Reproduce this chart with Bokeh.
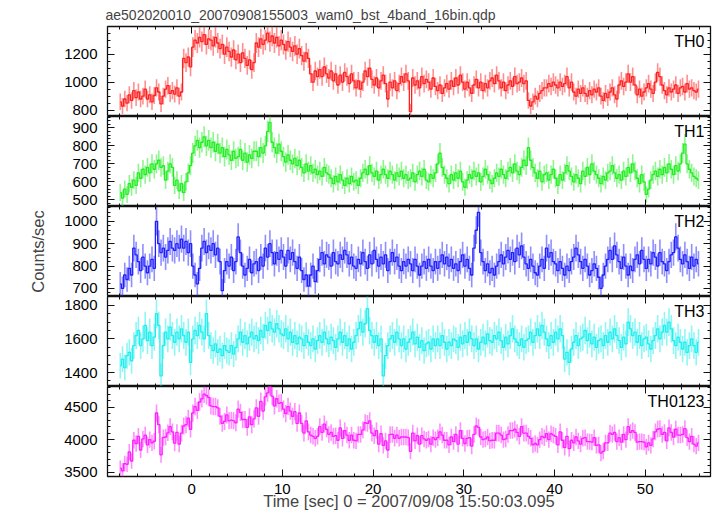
import numpy as np
from bokeh.plotting import figure
from bokeh.layouts import column
from bokeh.models import LinearAxis, FixedTicker, Range1d, Label
from bokeh.embed import file_html
from bokeh.resources import INLINE

TITLE = "ae502020010_20070908155003_wam0_bst_4band_16bin.qdp"
XLABEL = "Time [sec] 0 = 2007/09/08 15:50:03.095"
YLABEL = "Counts/sec"

# time bins: 0.25 s bins, first bin centre -7.875 s
T_START = -7.875
BIN = 0.25

th0 = [
    860, 830, 880, 850, 910, 870, 940, 890, 930, 880, 900, 950, 880, 910, 860, 905,
    960, 930, 845, 900, 950, 975, 920, 940, 915, 960, 900, 930, 1170, 1140, 1180, 1110,
    1250, 1300, 1280, 1320, 1290, 1340, 1270, 1310, 1300, 1260, 1320, 1280, 1240, 1270, 1200, 1250,
    1220, 1180, 1230, 1160, 1200, 1140, 1210, 1170, 1120, 1160, 1090, 1140, 1280, 1250, 1310, 1270,
    1300, 1350, 1290, 1330, 1280, 1320, 1260, 1300, 1270, 1230, 1290, 1250, 1220, 1260, 1200, 1240,
    1190, 1150, 1210, 1170, 1060, 1000, 1080, 1040, 1090, 1040, 1110, 1060, 1030, 1080, 1010, 1060,
    980, 1050, 1000, 1070, 1040, 990, 1060, 1010, 960, 1010, 950, 1000, 1080, 1040, 1100, 1020,
    980, 1030, 960, 1010, 1050, 990, 880, 1000, 960, 1010, 940, 990, 1040, 1000, 1060, 1010,
    790, 1030, 980, 1010, 960, 1040, 990, 1020, 1000, 950, 1030, 970, 940, 980, 920, 960,
    990, 950, 1010, 970, 1030, 980, 1050, 1000, 950, 1000, 960, 920, 980, 1020, 960, 1000,
    940, 990, 960, 1010, 1030, 990, 1050, 1010, 960, 1000, 940, 980, 1010, 970, 1040, 990,
    1000, 1030, 990, 1010, 870, 830, 860, 900, 880, 920, 940, 960, 960, 990, 970, 1000,
    980, 960, 1000, 970, 990, 1040, 960, 1000, 930, 900, 950, 920, 960, 920, 900, 940,
    910, 950, 930, 960, 900, 870, 920, 890, 930, 960, 910, 880, 980, 1010, 970, 1000,
    1060, 1000, 1040, 980, 910, 950, 900, 930, 960, 990, 950, 920, 1000, 1070, 1040, 980,
    940, 910, 960, 930, 950, 980, 920, 960, 970, 930, 990, 950, 960, 940, 930, 950,
]

th1 = [
    540, 510, 560, 530, 590, 570, 610, 580, 650, 620, 670, 640, 680, 650, 700, 670,
    700, 720, 680, 690, 610, 660, 700, 680, 580, 610, 550, 590, 540, 600, 650, 690,
    760, 800, 830, 790, 820, 850, 800, 830, 790, 820, 770, 810, 760, 790, 740, 780,
    750, 720, 770, 730, 740, 780, 720, 760, 710, 750, 730, 770, 770, 740, 790, 760,
    800, 880, 930, 820, 790, 760, 810, 770, 740, 710, 750, 720, 700, 730, 690, 720,
    680, 650, 700, 660, 690, 650, 670, 640, 660, 630, 680, 650, 640, 620, 590, 630,
    600, 640, 610, 580, 620, 590, 630, 600, 610, 580, 620, 650, 670, 640, 690, 650,
    630, 660, 610, 640, 670, 640, 620, 660, 640, 610, 650, 630, 660, 620, 640, 610,
    620, 650, 600, 640, 660, 630, 670, 610, 600, 640, 620, 650, 700, 760, 680, 640,
    620, 590, 640, 610, 650, 620, 660, 600, 570, 610, 640, 620, 660, 630, 650, 600,
    630, 670, 640, 610, 590, 620, 650, 630, 670, 640, 620, 660, 680, 650, 700, 660,
    640, 680, 720, 690, 790, 720, 680, 650, 620, 660, 600, 640, 650, 610, 640, 670,
    620, 580, 640, 610, 650, 690, 660, 630, 600, 640, 620, 590, 660, 630, 680, 640,
    700, 660, 640, 620, 590, 630, 610, 650, 660, 690, 650, 620, 640, 610, 660, 630,
    680, 650, 700, 660, 620, 590, 640, 600, 530, 560, 610, 640, 660, 630, 670, 640,
    680, 650, 700, 670, 640, 690, 660, 700, 760, 810, 700, 670, 650, 630, 620, 610,
]

th2 = [
    720, 700, 760, 740, 790, 760, 880, 850, 820, 780, 840, 800, 770, 800, 830, 790,
    1000, 900, 860, 880, 840, 870, 910, 880, 870, 900, 880, 920, 880, 910, 860, 900,
    800, 760, 720, 790, 880, 910, 860, 890, 870, 900, 850, 880, 820, 690, 780, 820,
    800, 840, 780, 820, 930, 860, 800, 760, 790, 830, 770, 810, 820, 780, 840, 800,
    880, 840, 900, 860, 810, 860, 830, 870, 840, 800, 870, 830, 860, 820, 790, 840,
    780, 740, 760, 710, 760, 800, 730, 780, 830, 860, 810, 850, 840, 800, 860, 820,
    810, 850, 830, 870, 850, 810, 840, 800, 790, 830, 810, 860, 820, 790, 850, 810,
    870, 830, 800, 840, 810, 850, 780, 820, 860, 820, 840, 800, 780, 820, 800, 830,
    810, 780, 830, 800, 760, 800, 820, 790, 830, 800, 780, 820, 790, 820, 850, 810,
    840, 800, 830, 790, 810, 780, 820, 850, 800, 830, 790, 760, 880, 960, 1040, 860,
    820, 780, 810, 770, 790, 760, 800, 820, 850, 810, 840, 870, 830, 860, 820, 880,
    850, 890, 840, 810, 790, 830, 800, 770, 760, 800, 830, 790, 880, 840, 860, 820,
    810, 780, 820, 790, 760, 800, 780, 820, 840, 880, 850, 820, 790, 830, 800, 760,
    780, 810, 790, 750, 700, 760, 800, 830, 870, 830, 890, 850, 820, 790, 840, 800,
    760, 800, 780, 830, 850, 810, 870, 830, 790, 830, 810, 860, 840, 800, 860, 820,
    810, 780, 820, 850, 860, 930, 880, 830, 810, 850, 820, 790, 840, 800, 830, 810,
]

th3 = [
    1440, 1480, 1430, 1500, 1520, 1470, 1560, 1620, 1650, 1560, 1600, 1680, 1590, 1640, 1560, 1610,
    1750, 1680, 1380, 1560, 1640, 1600, 1670, 1620, 1580, 1640, 1600, 1660, 1620, 1580, 1640, 1460,
    1600, 1650, 1620, 1680, 1640, 1600, 1750, 1620, 1560, 1530, 1570, 1520, 1540, 1500, 1560, 1530,
    1520, 1560, 1510, 1550, 1600, 1640, 1580, 1620, 1570, 1610, 1640, 1600, 1620, 1590, 1650, 1610,
    1680, 1650, 1700, 1660, 1640, 1690, 1660, 1630, 1620, 1660, 1600, 1640, 1580, 1620, 1570, 1610,
    1600, 1560, 1620, 1580, 1560, 1600, 1540, 1590, 1620, 1580, 1640, 1600, 1570, 1610, 1590, 1550,
    1600, 1640, 1580, 1620, 1560, 1600, 1540, 1580, 1620, 1660, 1700, 1640, 1690, 1780, 1650, 1620,
    1580, 1620, 1560, 1600, 1380, 1500, 1560, 1600, 1620, 1580, 1640, 1600, 1560, 1600, 1540, 1580,
    1600, 1640, 1570, 1610, 1550, 1590, 1530, 1570, 1580, 1540, 1600, 1560, 1600, 1560, 1620, 1580,
    1540, 1580, 1560, 1600, 1590, 1550, 1610, 1570, 1620, 1580, 1640, 1600, 1560, 1600, 1540, 1580,
    1610, 1570, 1630, 1590, 1580, 1620, 1600, 1640, 1590, 1550, 1610, 1570, 1620, 1660, 1600, 1580,
    1560, 1600, 1550, 1590, 1600, 1640, 1580, 1620, 1660, 1620, 1680, 1640, 1600, 1560, 1620, 1580,
    1640, 1600, 1660, 1620, 1480, 1520, 1460, 1540, 1580, 1620, 1560, 1600, 1610, 1650, 1590, 1630,
    1570, 1610, 1550, 1590, 1600, 1560, 1620, 1580, 1640, 1600, 1660, 1620, 1590, 1550, 1610, 1570,
    1700, 1660, 1620, 1640, 1580, 1620, 1560, 1600, 1610, 1570, 1540, 1590, 1620, 1660, 1600, 1640,
    1680, 1640, 1700, 1660, 1590, 1560, 1610, 1580, 1540, 1580, 1520, 1560, 1600, 1560, 1520, 1580,
]

labels = ["TH0", "TH1", "TH2", "TH3", "TH0123"]
colors = ["#ff2020", "#20ee20", "#2020ff", "#20eeee", "#ff20ff"]
y_ranges = [(755, 1398), (463, 963), (664, 1066), (1317, 1852), (3431, 4819)]
y_major = [[800, 1000, 1200], [500, 600, 700, 800, 900], [700, 800, 900, 1000],
           [1400, 1600, 1800], [3500, 4000, 4500]]
y_minor_step = [50, 20, 20, 50, 100]
x_major = [0, 10, 20, 30, 40, 50]
x_minor_step = 2
X_RANGE = (-9.28, 57.2)

t = T_START + BIN * np.arange(len(th0))
series = [np.array(th0, float), np.array(th1, float), np.array(th2, float), np.array(th3, float)]
series.append(series[0] + series[1] + series[2] + series[3])

FONT = "Liberation Sans"
TICK_COLOR = "#111111"
xr = Range1d(*X_RANGE)
x_minor = [float(v) for v in np.arange(-8, 57, x_minor_step)]


def base_axis(ax):
    ax.axis_line_color = None
    ax.major_tick_out = 0
    ax.minor_tick_out = 0
    ax.major_tick_line_color = TICK_COLOR
    ax.minor_tick_line_color = TICK_COLOR
    ax.major_label_standoff = 0


def labeled_axis(ax, ticks, minor):
    base_axis(ax)
    ax.ticker = FixedTicker(ticks=ticks, minor_ticks=minor)
    ax.major_tick_in = 7
    ax.minor_tick_in = 3
    ax.major_label_text_font = FONT
    ax.major_label_text_font_size = "15px"
    ax.major_label_text_color = "black"
    ax.major_label_standoff = 10


def tick_only_axes(p, side, ticks, minor):
    # ticks drawn as minor ticks so the axis has no labels at all
    for pos, length in ((ticks, 7), (minor, 3)):
        ax = LinearAxis(ticker=FixedTicker(ticks=[], minor_ticks=list(pos)))
        base_axis(ax)
        ax.major_tick_in = 0
        ax.minor_tick_in = length
        p.add_layout(ax, side)


TOP_BORDER = 26
BOTTOM_BORDER = 39
FRAME_H = 90

figs = []
n = len(labels)
for i in range(n):
    top = i == 0
    bottom = i == n - 1
    h = FRAME_H + (TOP_BORDER if top else 0) + (BOTTOM_BORDER if bottom else 0)
    lo, hi = y_ranges[i]
    p = figure(width=715, height=h, x_range=xr, y_range=Range1d(lo, hi),
               output_backend="svg", toolbar_location=None,
               x_axis_location=None, y_axis_location=None,
               min_border_left=107, min_border_right=5,
               min_border_top=TOP_BORDER if top else 0,
               min_border_bottom=BOTTOM_BORDER if bottom else 0)
    p.grid.visible = False
    p.outline_line_color = TICK_COLOR
    p.outline_line_width = 1.3
    ymin = [float(v) for v in np.arange(np.ceil(lo / y_minor_step[i]) * y_minor_step[i], hi, y_minor_step[i])]

    yax = LinearAxis()
    labeled_axis(yax, y_major[i], ymin)
    if i == 2:
        yax.axis_label = YLABEL
        yax.axis_label_text_font = FONT
        yax.axis_label_text_font_size = "16.5px"
        yax.axis_label_text_font_style = "normal"
        yax.axis_label_standoff = 14
    p.add_layout(yax, "left")

    if bottom:
        xax = LinearAxis()
        labeled_axis(xax, x_major, x_minor)
        xax.major_label_standoff = 7
        xax.axis_label = XLABEL
        xax.axis_label_text_font = FONT
        xax.axis_label_text_font_size = "16.5px"
        xax.axis_label_text_font_style = "normal"
        xax.axis_label_standoff = -5
        p.add_layout(xax, "below")
    else:
        tick_only_axes(p, "below", x_major, x_minor)
    tick_only_axes(p, "above", x_major, x_minor)
    tick_only_axes(p, "right", y_major[i], ymin)

    v = series[i]
    e = 2.0 * np.sqrt(v)  # Poisson error for 0.25 s bins
    p.segment(x0=t, y0=v - e, x1=t, y1=v + e, line_color=colors[i], line_alpha=0.5, line_width=1.6)
    p.step(t, v, mode="center", line_color=colors[i], line_width=1.3)

    p.add_layout(Label(x=X_RANGE[1], y=hi, x_offset=-6, y_offset=-6, text=labels[i],
                       text_align="right", text_baseline="top", text_font=FONT,
                       text_font_size="16px", text_color="black"))
    if top:
        p.title.text = TITLE
        p.title.text_font = FONT
        p.title.text_font_size = "14px"
        p.title.text_font_style = "normal"
        p.title.standoff = 7
        p.title.align = "left"
        p.title.offset = -2
    figs.append(p)

layout = column(*figs, spacing=0)
open("out.html", "w").write(file_html(layout, INLINE))
